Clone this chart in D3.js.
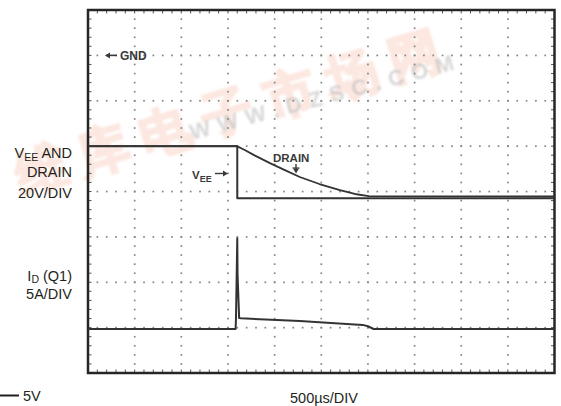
<!DOCTYPE html>
<html>
<head>
<meta charset="utf-8">
<script src="https://cdn.jsdelivr.net/npm/d3@7"></script>
<style>
  html, body { margin: 0; padding: 0; background: #fff; }
  svg { display: block; }
  text { font-family: "Liberation Sans", Arial, Helvetica, sans-serif; }
</style>
</head>
<body>
<svg id="chart" width="561" height="406"></svg>
<script>
// Scope trace: V_EE and drain voltage (20V/div) and Q1 drain current (5A/div), 500us/div
const timeDivisions = d3.range(0, 5001, 500);      // us, grid columns
const voltDivisions = d3.range(-140, 21, 20);      // V, grid rows

const veeTime   = [0, 1600, 1600, 5000];
const veeVolts  = [-40, -40, -63, -63];

const drainTime  = [0, 1595, 1680, 1790, 1950, 2110, 2270, 2480, 2700, 2860, 3010, 5000];
const drainVolts = [-40, -40, -41.7, -44.2, -47.5, -50.6, -53.6, -56.7, -59.4, -61.1, -62.0, -62.2];

const currentTime = [0, 1582, 1586, 1600, 1603, 1620, 1640, 2270, 2944, 3000, 3062, 5000];
const currentAmps = [0, 0, 1.2, 10.0, 6.0, 1.2, 1.18, 0.88, 0.45, 0.3, 0, 0];

const svg = d3.select("#chart");

const x  = d3.scaleLinear().domain([0, 5000]).range([88, 554.5]);
const yV = d3.scaleLinear().domain([-140, 20]).range([373, 10]);
const yI = d3.scaleLinear().domain([-4.85, 35.15]).range([373, 10]);

// faint site watermark behind the screen
const defs = svg.append("defs");
defs.append("filter").attr("id", "soft").append("feGaussianBlur").attr("stdDeviation", 1.2);
const wm = svg.append("g").attr("class", "watermark").attr("filter", "url(#soft)");
wm.append("text")
  .attr("transform", "translate(22,194) rotate(-17)")
  .attr("font-family", "'Noto Sans CJK SC', sans-serif")
  .attr("font-weight", "bold")
  .attr("font-size", 51)
  .attr("letter-spacing", 14)
  .attr("fill", "#ee8a68")
  .attr("stroke", "#ee8a68")
  .attr("stroke-width", 2.5)
  .attr("opacity", 0.2)
  .text("维库电子市场网");
wm.append("text")
  .attr("transform", "translate(192,140) rotate(-15)")
  .attr("font-weight", "bold")
  .attr("font-size", 22)
  .attr("letter-spacing", 8)
  .attr("fill", "#b8b8b8")
  .attr("opacity", 0.55)
  .text("WWW.DZSC.COM");

// dotted graticule: a dot every fifth of a division along each grid line
const grid = svg.append("g").attr("fill", "#868686");
const minorT = d3.range(0, 5001, 100);
const minorV = d3.range(-140, 21, 4);
timeDivisions.slice(1, -1).forEach(t => {
  grid.selectAll(null).data(minorV.slice(1, -1)).join("rect")
    .attr("x", x(t) - 0.8).attr("y", d => yV(d) - 0.8)
    .attr("width", 1.7).attr("height", 1.7);
});
voltDivisions.slice(1, -1).forEach(v => {
  grid.selectAll(null).data(minorT.slice(1, -1)).join("rect")
    .attr("x", d => x(d) - 0.8).attr("y", yV(v) - 0.8)
    .attr("width", 1.7).attr("height", 1.7);
});

// frame ticks
const ticks = svg.append("g").attr("stroke", "#555").attr("stroke-width", 1);
minorT.slice(1, -1).forEach(t => {
  ticks.append("line").attr("x1", x(t)).attr("x2", x(t)).attr("y1", yV(20)).attr("y2", yV(20) + 3.5);
  ticks.append("line").attr("x1", x(t)).attr("x2", x(t)).attr("y1", yV(-140)).attr("y2", yV(-140) - 3.5);
});
minorV.slice(1, -1).forEach(v => {
  ticks.append("line").attr("x1", x(0)).attr("x2", x(0) + 3.5).attr("y1", yV(v)).attr("y2", yV(v));
  ticks.append("line").attr("x1", x(5000)).attr("x2", x(5000) - 3.5).attr("y1", yV(v)).attr("y2", yV(v));
});

// frame
svg.append("rect")
  .attr("x", x(0)).attr("y", yV(20))
  .attr("width", x(5000) - x(0)).attr("height", yV(-140) - yV(20))
  .attr("fill", "none").attr("stroke", "#262626").attr("stroke-width", 2.5);

// traces
const traces = svg.append("g").attr("fill", "none").attr("stroke", "#333").attr("stroke-width", 2)
  .attr("stroke-linejoin", "round");
const lineV = d3.line().x(d => x(d[0])).y(d => yV(d[1]));
const lineI = d3.line().x(d => x(d[0])).y(d => yI(d[1]));
traces.append("path").attr("d", lineV(d3.zip(veeTime, veeVolts)));
traces.append("path").attr("d", lineV(d3.zip(drainTime, drainVolts))).attr("stroke-width", 1.8);
traces.append("path").attr("d", lineI(d3.zip(currentTime, currentAmps)));

// on-screen markers
const mk = svg.append("g").attr("fill", "#3a3a3a").attr("font-weight", "bold");
// ground reference
mk.append("text").attr("x", 120).attr("y", yV(0) + 4.3).attr("font-size", 12).text("GND");
mk.append("line").attr("x1", 107).attr("x2", 117).attr("y1", yV(0)).attr("y2", yV(0))
  .attr("stroke", "#3a3a3a").attr("stroke-width", 1.6);
mk.append("path").attr("d", `M105,${yV(0)} l5,-3 l0,6 z`);
// drain label with down arrow
mk.append("text").attr("x", 273).attr("y", 161.5).attr("font-size", 11.5).text("DRAIN");
mk.append("line").attr("x1", 296).attr("x2", 296).attr("y1", 164).attr("y2", 170)
  .attr("stroke", "#3a3a3a").attr("stroke-width", 1.4);
mk.append("path").attr("d", "M296,173.5 l-3,-5 l6,0 z");
mk.append("line").attr("x1", 292.5).attr("x2", 299.5).attr("y1", 168).attr("y2", 168)
  .attr("stroke", "#3a3a3a").attr("stroke-width", 1.2);
// V_EE label with right arrow
const vee = mk.append("text").attr("x", 192).attr("y", 178.5).attr("font-size", 11.5);
vee.append("tspan").text("V");
vee.append("tspan").attr("font-size", 9).attr("dy", 3).text("EE");
mk.append("line").attr("x1", 215).attr("x2", 224).attr("y1", 173.5).attr("y2", 173.5)
  .attr("stroke", "#3a3a3a").attr("stroke-width", 1.4);
mk.append("path").attr("d", "M228,173.5 l-5,-3 l0,6 z");

// channel captions
const cap = svg.append("g").attr("fill", "#231f20").attr("font-size", 14.5).attr("text-anchor", "end");
const c1 = cap.append("text").attr("x", 72).attr("y", 158);
c1.append("tspan").text("V");
c1.append("tspan").attr("font-size", 10.5).attr("dy", 2.5).text("EE");
c1.append("tspan").attr("dy", -2.5).text(" AND");
cap.append("text").attr("x", 72).attr("y", 177).text("DRAIN");
cap.append("text").attr("x", 72).attr("y", 197.5).text("20V/DIV");
const c2 = cap.append("text").attr("x", 72).attr("y", 280.5);
c2.append("tspan").text("I");
c2.append("tspan").attr("font-size", 10.5).attr("dy", 2.5).text("D");
c2.append("tspan").attr("dy", -2.5).text(" (Q1)");
cap.append("text").attr("x", 72).attr("y", 298.5).text("5A/DIV");

// scale bar and timebase
svg.append("line").attr("x1", 0).attr("x2", 19).attr("y1", 395.5).attr("y2", 395.5)
  .attr("stroke", "#231f20").attr("stroke-width", 2);
svg.append("text").attr("x", 23).attr("y", 401).attr("font-size", 14.5).attr("fill", "#231f20").text("5V");
svg.append("text").attr("x", 324).attr("y", 403).attr("font-size", 14.5).attr("fill", "#231f20")
  .attr("text-anchor", "middle").text("500\u00b5s/DIV");
</script>
</body>
</html>
